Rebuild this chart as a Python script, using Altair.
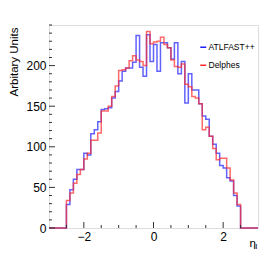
import altair as alt
import pandas as pd

# Histogram of eta_l, 50 bins of width 0.1 from -2.5 to 2.5
bin_low = -2.5
bin_width = 0.1
x_range = [-3.0, 3.0]

atlfast = [29, 47, 60, 72, 72, 92, 90, 116, 121, 131,
           146, 147, 148, 160, 168, 181, 193, 197, 197, 204,
           237, 198, 187, 238, 205, 226, 193, 228, 228, 222,
           208, 228, 190, 205, 154, 190, 170, 170, 153, 138,
           134, 113, 103, 92, 77, 74, 62, 58, 40, 27]

delphes = [34, 43, 55, 66, 72, 85, 92, 108, 108, 117,
           144, 144, 150, 162, 175, 194, 195, 197, 206, 212,
           207, 205, 200, 242, 227, 229, 230, 235, 226, 222,
           207, 199, 198, 202, 177, 174, 162, 160, 153, 121,
           124, 113, 98, 84, 86, 86, 74, 59, 43, 29]

series_names = ["ATLFAST++", "Delphes"]
series_colors = ["#2020ff", "#ff2a2a"]

y_major = [0, 50, 100, 150, 200]
y_minor = [v for v in range(0, 251, 10) if v not in y_major]
x_major = [-2, 0, 2]
x_minor = [-2.5, -1.5, -1.0, -0.5, 0.5, 1.0, 1.5, 2.5]


def outline(vals, name):
    n = len(vals)
    xs = [x_range[0]] + [round(bin_low + bin_width * i, 3) for i in range(n)] + [round(bin_low + bin_width * n, 3), x_range[1]]
    ys = [0] + list(vals) + [0, 0]
    return pd.DataFrame({"eta": xs, "count": ys, "series": name, "idx": range(len(xs))})


hist = pd.concat([outline(atlfast, series_names[0]), outline(delphes, series_names[1])], ignore_index=True)

W, H = 209, 203
FONT = "Liberation Sans"

xs = alt.Scale(domain=x_range, nice=False, zero=False)
ys = alt.Scale(domain=[0, 250], nice=False)

lines = alt.Chart(hist).mark_line(interpolate="step-after", strokeWidth=1.5, strokeOpacity=0.7).encode(
    x=alt.X("eta:Q", scale=xs,
            axis=alt.Axis(values=x_major, format="d", ticks=False, domain=False, grid=False,
                          labelFont=FONT, labelFontSize=12, labelPadding=3, labelColor="black",
                          title=None)),
    y=alt.Y("count:Q", scale=ys,
            axis=alt.Axis(values=y_major, ticks=False, domain=False, grid=False,
                          labelFont=FONT, labelFontSize=12, labelPadding=3, labelColor="black",
                          title=None)),
    color=alt.Color("series:N", scale=alt.Scale(domain=series_names, range=series_colors),
                    legend=alt.Legend(title=None, orient="none", legendX=150, legendY=18,
                                      symbolType="stroke", symbolSize=36, symbolStrokeWidth=1.5,
                                      labelFont=FONT, labelFontSize=8.5, labelColor="black",
                                      labelOffset=1, rowPadding=9, padding=0)),
    order="idx:Q",
    detail="series:N",
)

ymaj = alt.Chart(pd.DataFrame({"v": y_major})).mark_rule(color="#333", strokeWidth=1).encode(
    y=alt.Y("v:Q", scale=ys), x=alt.value(0), x2=alt.value(6))
ymin = alt.Chart(pd.DataFrame({"v": y_minor})).mark_rule(color="#333", strokeWidth=1).encode(
    y=alt.Y("v:Q", scale=ys), x=alt.value(0), x2=alt.value(3))
xmaj = alt.Chart(pd.DataFrame({"v": x_major})).mark_rule(color="#333", strokeWidth=1).encode(
    x=alt.X("v:Q", scale=xs), y=alt.value(H), y2=alt.value(H - 6))
xmin = alt.Chart(pd.DataFrame({"v": x_minor})).mark_rule(color="#333", strokeWidth=1).encode(
    x=alt.X("v:Q", scale=xs), y=alt.value(H), y2=alt.value(H - 3))

ytitle = alt.Chart(pd.DataFrame({"t": ["Arbitary Units"]})).mark_text(
    font=FONT, fontSize=11.5, angle=270, align="center", baseline="alphabetic", color="black").encode(
    text="t:N", x=alt.value(-31.5), y=alt.value(37))
xt = alt.Chart(pd.DataFrame({"t": ["η"]})).mark_text(font=FONT, fontSize=11.5, align="left",
                                                     baseline="alphabetic", color="black").encode(
    text="t:N", x=alt.value(200.5), y=alt.value(221.5))
xsub = alt.Chart(pd.DataFrame({"t": ["l"]})).mark_text(font=FONT, fontSize=8, align="left",
                                                       baseline="alphabetic", color="black").encode(
    text="t:N", x=alt.value(206.5), y=alt.value(223.5))

chart = alt.layer(lines, ymin, ymaj, xmin, xmaj, ytitle, xt, xsub).properties(
    width=W, height=H,
    autosize=alt.AutoSizeParams(type="none"),
    padding={"left": 41, "top": 17, "right": 7, "bottom": 23},
).configure_view(stroke="#333", strokeWidth=1).configure(background="white")

chart.save("out.html", embed_options={"renderer": "svg", "actions": False})
